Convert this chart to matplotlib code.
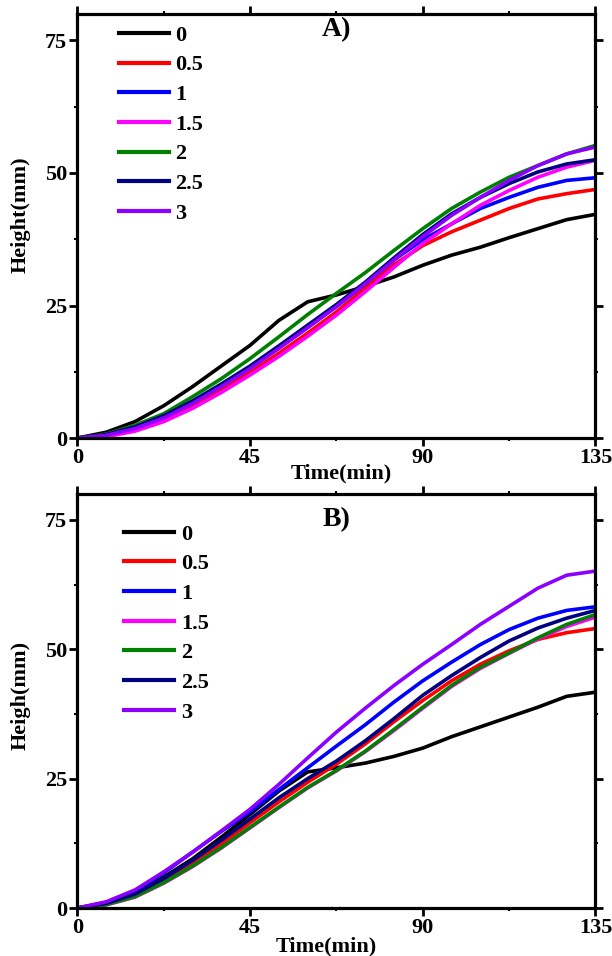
import matplotlib
matplotlib.use('Agg')
import matplotlib.pyplot as plt
from matplotlib.ticker import MultipleLocator

plt.rcParams['font.family'] = ['Liberation Serif', 'DejaVu Serif']
plt.rcParams['font.weight'] = 'bold'

# time axis (min)
t = [0, 7.5, 15, 22.5, 30, 37.5, 45, 52.5, 60, 67.5, 75, 82.5, 90, 97.5, 105, 112.5, 120, 127.5, 135]

labels = ['0', '0.5', '1', '1.5', '2', '2.5', '3']
colors = ['black', 'red', 'blue', 'magenta', 'green', 'navy', '#8B00FF']

# panel A
a_0 = [0, 1.1, 3.1, 6.1, 9.7, 13.6, 17.5, 22.2, 25.7, 27.0, 28.6, 30.4, 32.6, 34.5, 36.0, 37.8, 39.5, 41.2, 42.2]
a_05 = [0, 0.4, 1.6, 3.5, 6.1, 9.1, 12.4, 16.0, 19.8, 23.8, 28.3, 32.7, 36.3, 38.9, 41.1, 43.3, 45.1, 46.1, 46.9]
a_1 = [0, 0.6, 2.0, 4.0, 6.8, 10.0, 13.4, 17.2, 21.0, 24.8, 29.1, 33.6, 37.4, 40.4, 43.3, 45.4, 47.3, 48.6, 49.1]
a_15 = [0, 0.25, 1.3, 3.1, 5.6, 8.6, 11.9, 15.4, 19.2, 23.2, 27.6, 32.2, 36.7, 40.4, 43.9, 46.7, 49.2, 51.1, 52.4]
a_2 = [0, 0.75, 2.4, 4.6, 7.8, 11.2, 15.0, 19.1, 23.3, 27.3, 31.2, 35.4, 39.5, 43.3, 46.4, 49.2, 51.4, 53.6, 55.2]
a_25 = [0, 0.65, 2.1, 4.2, 7.0, 10.2, 13.6, 17.4, 21.3, 25.2, 29.4, 34.0, 38.4, 42.3, 45.4, 48.0, 50.2, 51.7, 52.5]
a_3 = [0, 0.5, 1.8, 3.8, 6.5, 9.7, 13.1, 16.9, 20.8, 24.8, 29.1, 33.6, 38.0, 42.0, 45.4, 48.6, 51.4, 53.6, 54.9]

# panel B
b_0 = [0, 0.9, 2.8, 6.0, 9.5, 13.7, 18.1, 22.6, 26.3, 27.1, 28.0, 29.3, 30.9, 33.1, 35.0, 36.9, 38.8, 40.9, 41.7]
b_05 = [0, 0.8, 2.5, 5.4, 8.7, 12.4, 16.5, 20.5, 24.3, 27.8, 31.7, 36.0, 40.1, 43.9, 47.1, 49.7, 51.9, 53.2, 54.0]
b_1 = [0, 1.1, 3.3, 6.8, 10.8, 14.8, 18.6, 22.9, 27.1, 31.3, 35.4, 39.8, 43.9, 47.5, 50.9, 53.8, 56.0, 57.5, 58.2]
b_15 = [0, 0.6, 2.1, 4.8, 8.0, 11.6, 15.5, 19.4, 23.2, 26.5, 30.2, 34.3, 38.6, 42.8, 46.3, 49.2, 52.0, 54.4, 56.2]
b_2 = [0, 0.65, 2.2, 4.9, 8.1, 11.7, 15.6, 19.5, 23.3, 26.6, 30.3, 34.5, 38.8, 43.0, 46.5, 49.3, 52.2, 54.8, 56.7]
b_25 = [0, 0.9, 2.7, 5.7, 9.2, 13.1, 17.2, 21.3, 25.0, 28.4, 32.3, 36.6, 41.1, 44.9, 48.4, 51.6, 54.1, 56.0, 57.5]
b_3 = [0, 1.2, 3.5, 7.0, 10.8, 14.9, 19.1, 23.9, 29.0, 34.0, 38.6, 43.0, 47.1, 50.9, 54.8, 58.3, 61.8, 64.3, 65.1]

fig = plt.figure(figsize=(6.12, 9.56), dpi=100)
ax1 = fig.add_axes([0.1266, 0.5418, 0.8464, 0.4436])
ax2 = fig.add_axes([0.1266, 0.0502, 0.8464, 0.4331])


def style(ax, series, title, ylab, title_y, leg_x, leg_y, xl_pos, yl_pos):
    for y, c, lab in zip(series, colors, labels):
        ax.plot(t, y, color=c, lw=2.6, label=lab)
    ax.set_xlim(0, 135)
    ax.set_ylim(0, 80)
    ax.xaxis.set_major_locator(MultipleLocator(45))
    ax.xaxis.set_minor_locator(MultipleLocator(22.5))
    ax.yaxis.set_major_locator(MultipleLocator(25))
    ax.yaxis.set_minor_locator(MultipleLocator(12.5))
    for s in ax.spines.values():
        s.set_linewidth(2.3)
    ax.tick_params(which='major', direction='out', length=5.5, width=2,
                   labelsize=16, top=True, right=True, pad=2)
    ax.tick_params(which='minor', direction='out', length=2.5, width=1.5,
                   top=True, right=True)
    ax.set_xlabel('Time(min)', fontsize=16, fontweight='bold', va='center')
    ax.xaxis.set_label_coords(*xl_pos)
    ax.set_ylabel(ylab, fontsize=16, fontweight='bold', va='center')
    ax.yaxis.set_label_coords(*yl_pos)
    ax.text(0.5, title_y, title, transform=ax.transAxes, ha='center',
            va='top', fontsize=20, fontweight='bold')
    leg = ax.legend(loc='upper left', bbox_to_anchor=(leg_x, leg_y), frameon=False,
                    fontsize=16, handlelength=2.25, handletextpad=0.3,
                    labelspacing=0.41, borderaxespad=0.3)
    for h in leg.get_lines():
        h.set_linewidth(3)


style(ax1, [a_0, a_05, a_1, a_15, a_2, a_25, a_3], 'A)', 'Height(mm)',
      0.993, 0.05, 1.01, (0.509, -0.084), (-0.11, 0.526))
style(ax2, [b_0, b_05, b_1, b_15, b_2, b_25, b_3], 'B)', 'Heigh(mm)',
      0.968, 0.06, 0.965, (0.480, -0.094), (-0.11, 0.514))

fig.savefig('out.png', dpi=100)
